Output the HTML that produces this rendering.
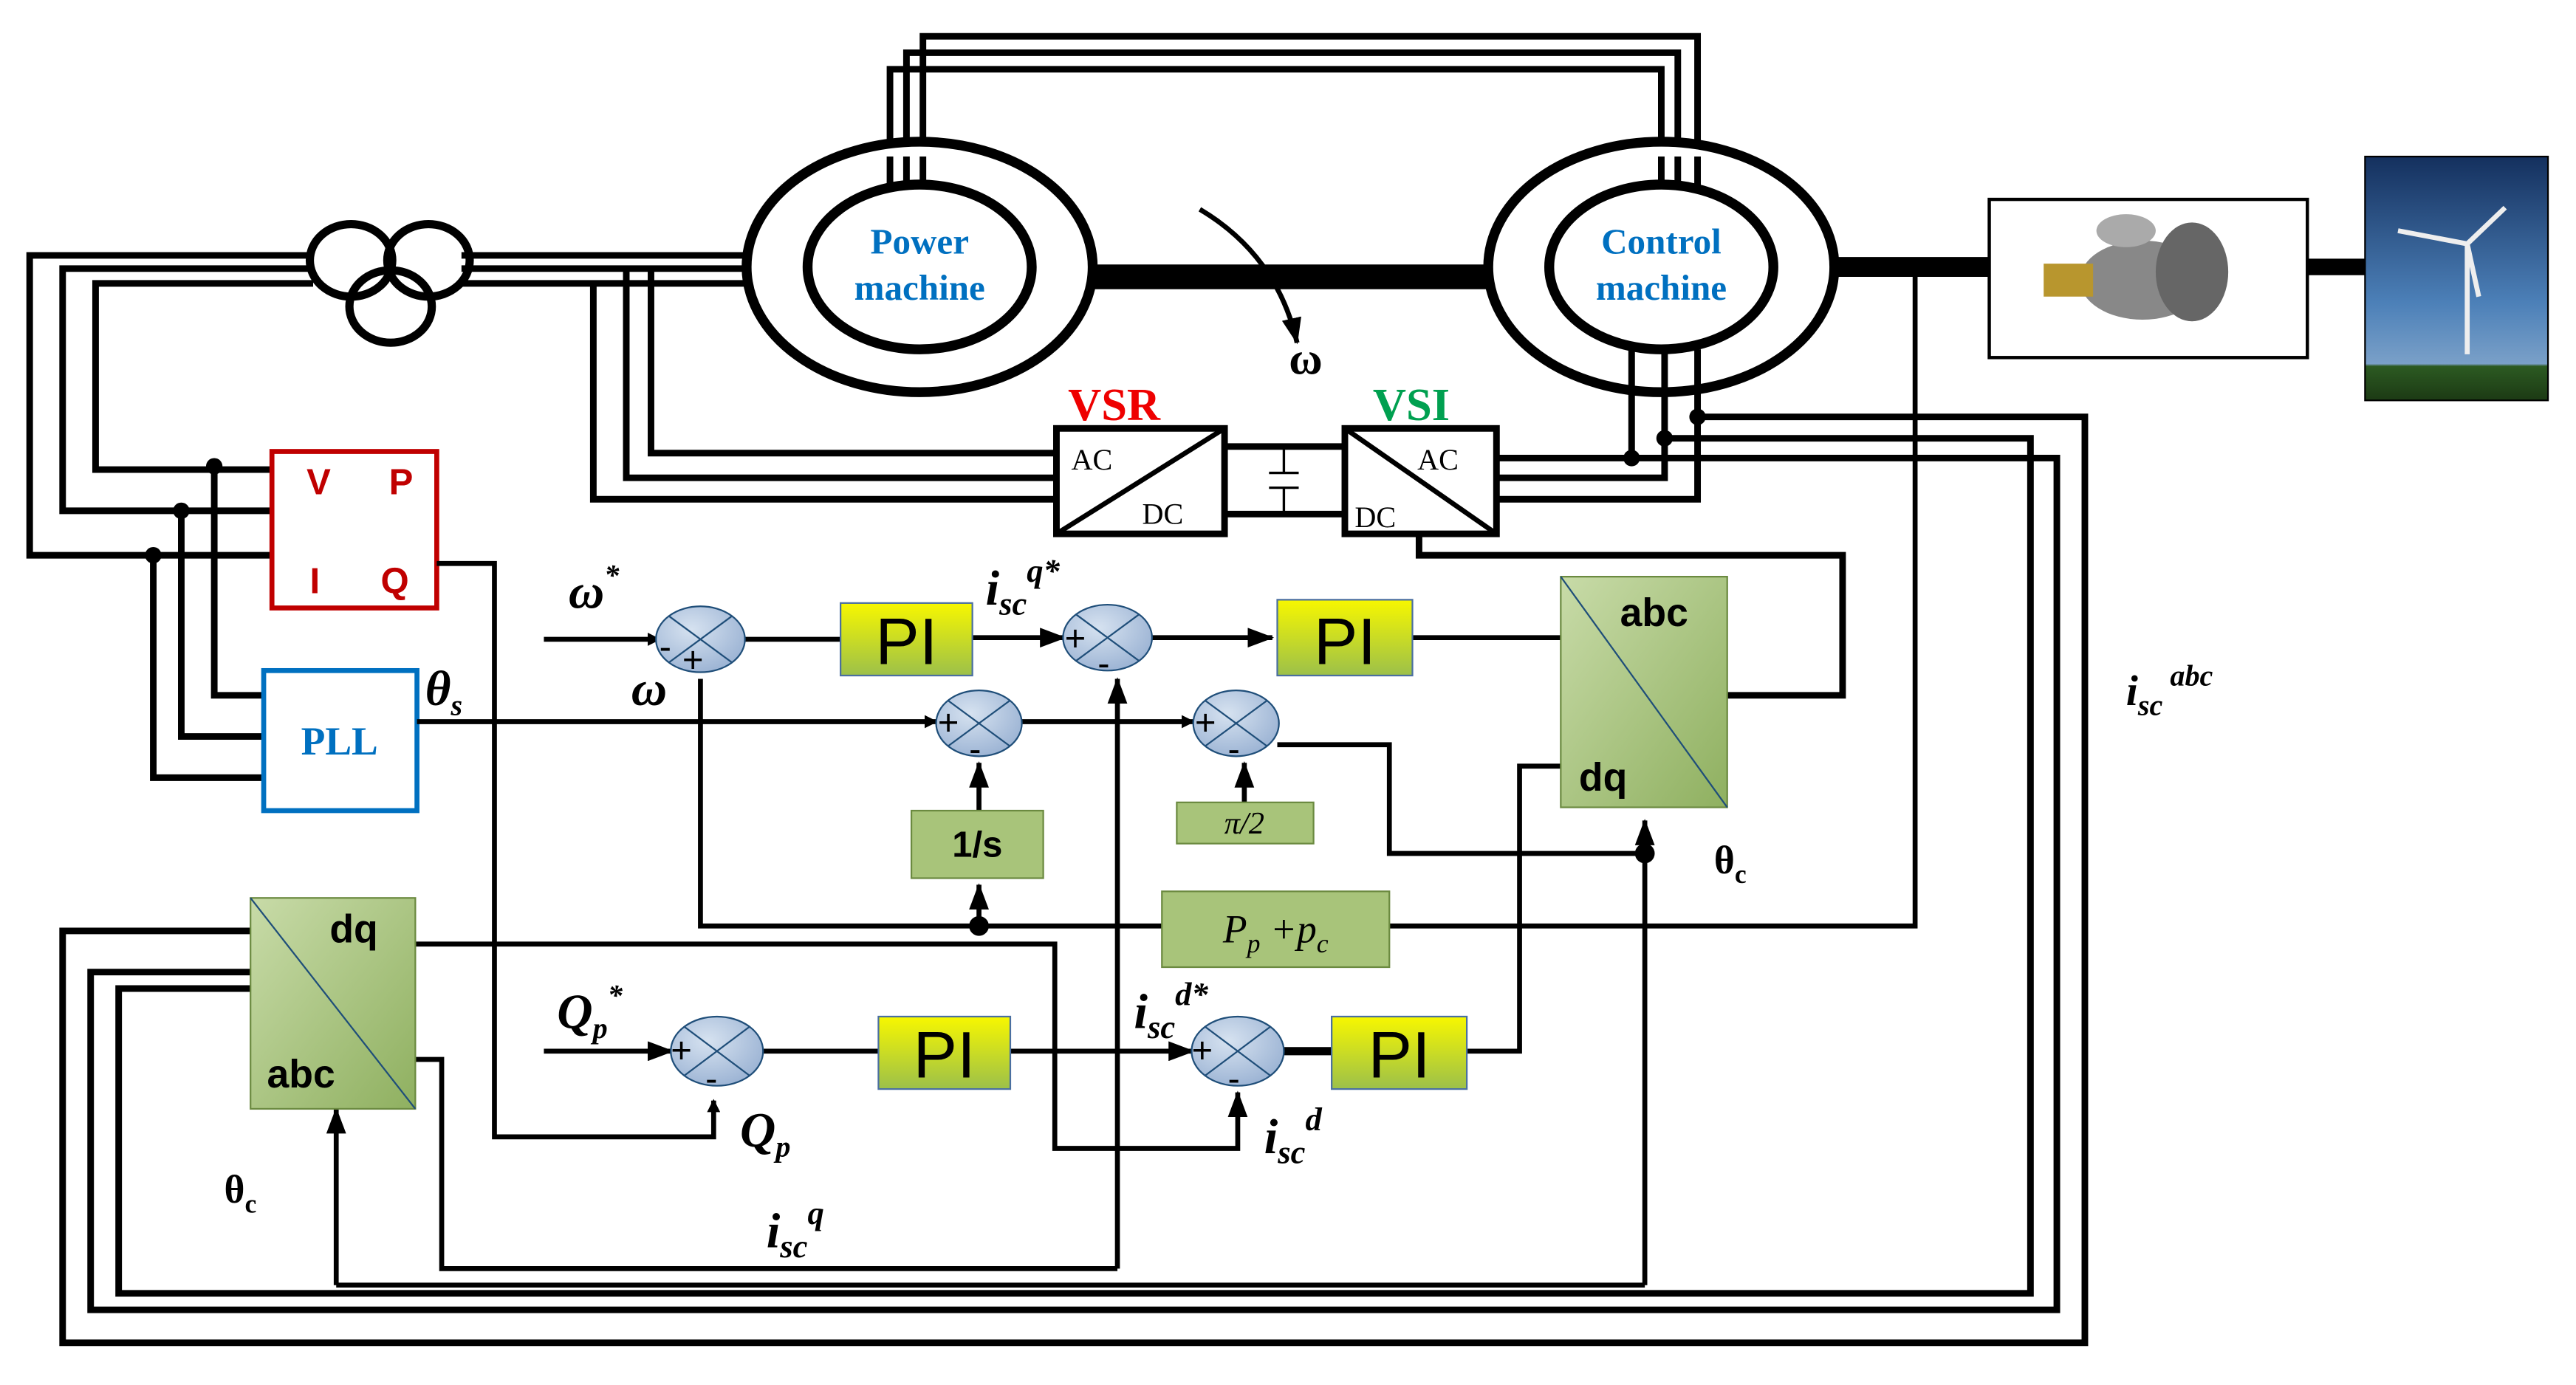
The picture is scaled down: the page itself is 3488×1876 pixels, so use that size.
<!DOCTYPE html>
<html><head><meta charset="utf-8"><style>html,body{margin:0;padding:0;background:#fff}svg{display:block}</style></head>
<body>
<svg width="3488" height="1876" viewBox="0 0 1563 840.6" xmlns="http://www.w3.org/2000/svg" font-family="Liberation Serif, serif">
<defs>
<linearGradient id="pi" x1="0" y1="0" x2="0" y2="1"><stop offset="0" stop-color="#f7f700"/><stop offset="1" stop-color="#9cc04a"/></linearGradient>
<linearGradient id="gb" x1="0" y1="0" x2="1" y2="1"><stop offset="0" stop-color="#c8dba8"/><stop offset="1" stop-color="#8fb060"/></linearGradient>
<radialGradient id="sm" cx="0.4" cy="0.35" r="0.7"><stop offset="0" stop-color="#d6e2f0"/><stop offset="1" stop-color="#9ab2d3"/></radialGradient>
<linearGradient id="sky" x1="0" y1="0" x2="0" y2="1"><stop offset="0" stop-color="#14305e"/><stop offset="0.6" stop-color="#4c80b8"/><stop offset="0.85" stop-color="#7aa0c8"/><stop offset="0.86" stop-color="#2c5a22"/><stop offset="1" stop-color="#1c3a14"/></linearGradient>
<marker id="ar" markerWidth="8" markerHeight="8" refX="7" refY="4" orient="auto" markerUnits="userSpaceOnUse"><path d="M0,0 L8,4 L0,8z" fill="#000"/></marker>
<marker id="ab" markerWidth="16" markerHeight="12" refX="15" refY="6" orient="auto" markerUnits="userSpaceOnUse"><path d="M0,0 L16,6 L0,12z" fill="#000"/></marker>
</defs>
<g fill="none" stroke="#000" stroke-width="4">
<path d="M540,95 V42 H1008 V95"/><path d="M550,95 V32 H1018 V95"/><path d="M560,95 V22 H1030 V95"/>
<path d="M190,155 H18 V337 H165"/><path d="M190,163 H38 V310 H165"/><path d="M190,172 H58 V285 H165"/>
<path d="M280,155 H455"/><path d="M280,163 H455"/><path d="M280,172 H455"/>
<path d="M395,163 V275 H641"/><path d="M380,163 V290 H641"/><path d="M360,172 V303 H641"/>
<path d="M130,283 V422 H160"/><path d="M110,310 V447 H160"/><path d="M93,337 V472 H160"/>
</g>
<g fill="#000"><circle cx="130" cy="283" r="5"/><circle cx="110" cy="310" r="5"/><circle cx="93" cy="337" r="5"/></g>
<g fill="none" stroke="#000" stroke-width="5"><ellipse cx="213" cy="158" rx="25" ry="22"/><ellipse cx="260" cy="158" rx="25" ry="22"/><ellipse cx="237" cy="186" rx="25" ry="22"/></g>
<g fill="#fff" stroke="#000" stroke-width="6">
<ellipse cx="558" cy="162" rx="105" ry="76"/><ellipse cx="558" cy="162" rx="68" ry="50"/>
<ellipse cx="1008" cy="162" rx="105" ry="76"/><ellipse cx="1008" cy="162" rx="68" ry="50"/>
</g>
<g stroke="#000" stroke-width="4"><path d="M540,95 V115 M550,95 V112 M560,95 V112 M1030,95 V114 M1018,95 V112 M1008,95 V112"/></g>
<g font-weight="bold" fill="#0070c0" font-size="22" text-anchor="middle"><text x="558" y="154">Power</text><text x="558" y="182">machine</text><text x="1008" y="154">Control</text><text x="1008" y="182">machine</text></g>
<path d="M663,168 H903" stroke="#000" stroke-width="15"/>
<path d="M1113,162 H1207" stroke="#000" stroke-width="12"/>
<path d="M1400,162 H1435" stroke="#000" stroke-width="10"/>
<rect x="1207" y="121" width="193" height="96" fill="#fff" stroke="#000" stroke-width="2"/>
<g><ellipse cx="1300" cy="170" rx="38" ry="24" fill="#888"/><ellipse cx="1330" cy="165" rx="22" ry="30" fill="#666"/><rect x="1240" y="160" width="30" height="20" fill="#b8962e"/><ellipse cx="1290" cy="140" rx="18" ry="10" fill="#aaa"/></g>
<rect x="1435" y="95" width="111" height="148" fill="url(#sky)" stroke="#000" stroke-width="1"/>
<path d="M1497,215 V148 M1497,148 L1520,126 M1497,148 L1455,140 M1497,148 L1504,180" stroke="#eee" stroke-width="3"/>
<path d="M728,127 Q775,155 787,208" fill="none" stroke="#000" stroke-width="3" marker-end="url(#ab)"/>
<text x="782" y="227" font-size="28" font-weight="bold">ω</text>
<text x="648" y="255" font-size="28" font-weight="bold" fill="#e00">VSR</text>
<text x="833" y="255" font-size="28" font-weight="bold" fill="#00a050">VSI</text>
<g fill="#fff" stroke="#000" stroke-width="4"><rect x="641" y="260" width="102" height="64"/><rect x="816" y="260" width="92" height="64"/></g>
<g stroke="#000" stroke-width="3"><path d="M641,324 L743,260 M816,260 L908,324"/><path d="M743,271 H816 M743,312 H816" stroke-width="4"/><path d="M779,271 V287 M779,296 V312 M770,287 H788 M770,296 H788" stroke-width="1.5"/></g>
<g font-size="18"><text x="650" y="285">AC</text><text x="693" y="318">DC</text><text x="860" y="285">AC</text><text x="822" y="320">DC</text></g>
<g fill="none" stroke="#000" stroke-width="4">
<path d="M908,278 H990 V212"/><path d="M908,290 H1010 V212"/><path d="M908,303 H1030 V212"/>
<path d="M990,278 H1248 V795 H55 V590 H152"/><path d="M1010,266 H1232 V785 H72 V600 H152"/><path d="M1030,253 H1265 V815 H38 V565 H152"/>
<path d="M861,324 V337 H1118 V422 H1048"/>
</g>
<g fill="#000"><circle cx="990" cy="278" r="5"/><circle cx="1010" cy="266" r="5"/><circle cx="1030" cy="253" r="5"/></g>
<rect x="165" y="274" width="100" height="95" fill="#fff" stroke="#c00000" stroke-width="3"/>
<g fill="#c00000" font-family="Liberation Sans, sans-serif" font-weight="bold" font-size="22"><text x="186" y="300">V</text><text x="236" y="300">P</text><text x="188" y="360">I</text><text x="231" y="360">Q</text></g>
<rect x="160" y="407" width="93" height="85" fill="#fff" stroke="#0070c0" stroke-width="3"/>
<text x="206" y="458" text-anchor="middle" font-size="24" font-weight="bold" fill="#0070c0">PLL</text>
<g fill="none" stroke="#000" stroke-width="3">
<path d="M265,342 H300 V690 H433 V668" marker-end="url(#ar)"/>
<path d="M330,388 H400" marker-end="url(#ar)"/>
<path d="M450,388 H510"/>
<path d="M590,387 H646" marker-end="url(#ab)"/>
<path d="M698,387 H772" marker-end="url(#ab)"/>
<path d="M857,387 H947"/>
<path d="M253,438 H568" marker-end="url(#ar)"/>
<path d="M620,438 H724" marker-end="url(#ar)"/>
<path d="M775,452 H843 V518 H998"/>
<path d="M594,492 V463" marker-end="url(#ab)"/>
<path d="M755,487 V463" marker-end="url(#ab)"/>
<path d="M425,412 V562 H705"/>
<path d="M594,562 V537" marker-end="url(#ab)"/>
<path d="M843,562 H1162 V162"/>
<path d="M947,465 H922 V638 H890"/>
<path d="M998,780 V498" marker-end="url(#ab)"/>
<path d="M678,770 V412" marker-end="url(#ab)"/>
<path d="M252,573 H640 V697 H751 V663" marker-end="url(#ab)"/>
<path d="M252,643 H268 V770 H678"/>
<path d="M204,780 H998"/>
<path d="M204,780 V673" marker-end="url(#ab)"/>
<path d="M330,638 H408" marker-end="url(#ab)"/>
<path d="M460,638 H533"/>
<path d="M613,638 H724" marker-end="url(#ab)"/>
<path d="M778,638 H808" stroke-width="5"/>
</g>
<g fill="#000"><circle cx="594" cy="562" r="6"/><circle cx="998" cy="518" r="6"/></g>
<g stroke="#1f4e79" stroke-width="1" fill="url(#sm)">
<ellipse cx="425" cy="388" rx="27" ry="20"/><ellipse cx="672" cy="387" rx="27" ry="20"/><ellipse cx="594" cy="439" rx="26" ry="20"/><ellipse cx="750" cy="439" rx="26" ry="20"/><ellipse cx="435" cy="638" rx="28" ry="21"/><ellipse cx="751" cy="638" rx="28" ry="21"/>
</g>
<g stroke="#1f4e79" stroke-width="1"><path d="M406,374 L444,402 M444,374 L406,402 M653,373 L691,401 M691,373 L653,401 M575,425 L613,453 M613,425 L575,453 M731,425 L769,453 M769,425 L731,453 M415,623 L455,653 M455,623 L415,653 M731,623 L771,653 M771,623 L731,653"/></g>
<g font-family="Liberation Sans, sans-serif" font-size="22"><text x="400" y="400">-</text><text x="414" y="408">+</text><text x="646" y="395">+</text><text x="666" y="410">-</text><text x="569" y="446">+</text><text x="588" y="462">-</text><text x="725" y="446">+</text><text x="745" y="462">-</text><text x="407" y="645">+</text><text x="428" y="662">-</text><text x="723" y="645">+</text><text x="745" y="662">-</text></g>
<g fill="url(#pi)" stroke="#4a6fa0" stroke-width="1"><rect x="510" y="366" width="80" height="44"/><rect x="775" y="364" width="82" height="46"/><rect x="533" y="617" width="80" height="44"/><rect x="808" y="617" width="82" height="44"/></g>
<g font-family="Liberation Sans, sans-serif" font-size="40" text-anchor="middle"><text x="550" y="403">PI</text><text x="816" y="403">PI</text><text x="573" y="654">PI</text><text x="849" y="654">PI</text></g>
<g fill="#a8c47a" stroke="#6b8a40" stroke-width="1"><rect x="553" y="492" width="80" height="41"/><rect x="714" y="487" width="83" height="25"/><rect x="705" y="541" width="138" height="46"/></g>
<text x="593" y="520" text-anchor="middle" font-family="Liberation Sans, sans-serif" font-size="22" font-weight="bold">1/s</text>
<text x="755" y="506" text-anchor="middle" font-size="19" font-style="italic">π/2</text>
<text x="774" y="572" text-anchor="middle" font-size="24" font-style="italic">P<tspan font-size="16" dy="6">p</tspan><tspan dy="-6"> +p</tspan><tspan font-size="16" dy="6">c</tspan></text>
<g fill="url(#gb)" stroke="#6b8a40" stroke-width="1"><rect x="947" y="350" width="101" height="140"/><rect x="152" y="545" width="100" height="128"/></g>
<path d="M947,350 L1048,490 M152,545 L252,673" stroke="#1f4e79" stroke-width="1"/>
<g font-family="Liberation Sans, sans-serif" font-weight="bold" font-size="24"><text x="983" y="380">abc</text><text x="958" y="480">dq</text><text x="200" y="572">dq</text><text x="162" y="660">abc</text></g>
<g font-weight="bold" font-style="italic" font-size="30">
<text x="345" y="369">ω<tspan font-size="18" dy="-14">*</tspan></text>
<text x="383" y="428">ω</text>
<text x="258" y="428">θ<tspan font-size="18" dy="6">s</tspan></text>
<text x="598" y="367">i<tspan font-size="20" dy="6">sc</tspan><tspan font-size="20" dy="-20">q*</tspan></text>
<text x="1290" y="428" font-size="26">i<tspan font-size="18" dy="6">sc</tspan><tspan font-size="18" dy="-18"> abc</tspan></text>
<text x="338" y="624">Q<tspan font-size="18" dy="6">p</tspan><tspan font-size="18" dy="-20">*</tspan></text>
<text x="449" y="696">Q<tspan font-size="18" dy="6">p</tspan></text>
<text x="688" y="624">i<tspan font-size="20" dy="6">sc</tspan><tspan font-size="20" dy="-20">d*</tspan></text>
<text x="767" y="700">i<tspan font-size="20" dy="6">sc</tspan><tspan font-size="20" dy="-20">d</tspan></text>
<text x="465" y="757">i<tspan font-size="20" dy="6">sc</tspan><tspan font-size="20" dy="-20">q</tspan></text>
</g>
<g font-weight="bold" font-size="24"><text x="1040" y="530">θ<tspan font-size="16" dy="6">c</tspan></text><text x="136" y="730">θ<tspan font-size="16" dy="6">c</tspan></text></g>
</svg>
</body></html>
